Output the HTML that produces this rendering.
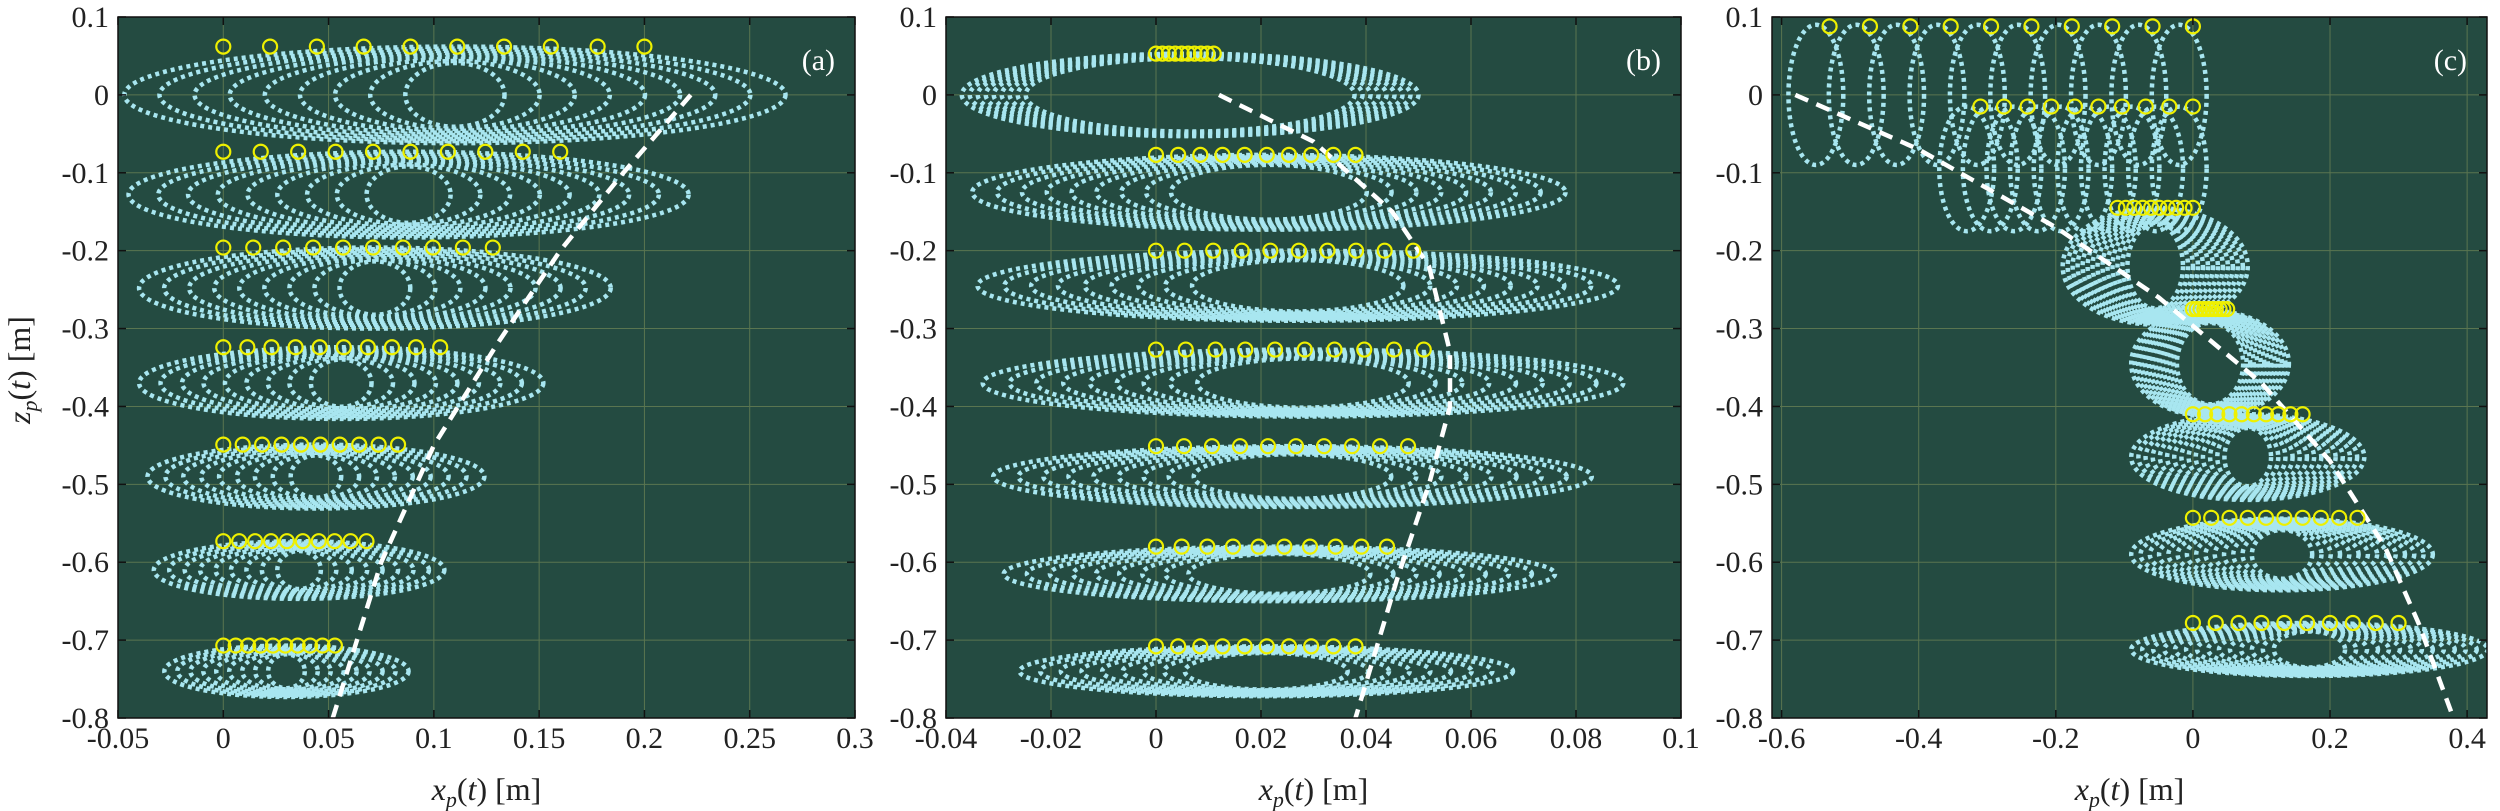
<!DOCTYPE html>
<html><head><meta charset="utf-8"><style>
html,body{margin:0;padding:0;background:#fff;}
svg{display:block;}
text{font-family:"Liberation Serif",serif;fill:#222;}
</style></head><body>
<svg id="s" width="2500" height="811" xmlns="http://www.w3.org/2000/svg">
<g id="g"></g>
<text x="30" y="370" font-size="32" transform="rotate(-90 30 370)" text-anchor="middle"><tspan font-style="italic">z</tspan><tspan font-style="italic" font-size="22" dy="7">p</tspan><tspan dy="-7">(</tspan><tspan font-style="italic">t</tspan>)  [m]</text>
</svg>
<script>
const NS="http://www.w3.org/2000/svg",G=document.getElementById('g');
function el(t,a,p){const e=document.createElementNS(NS,t);for(const k in a)e.setAttribute(k,a[k]);(p||G).appendChild(e);return e;}
const T=17,B=718;
const panels=[
 {L:118,R:855,x0:-0.05,x1:0.3,xt:[-0.05,0,0.05,0.1,0.15,0.2,0.25,0.3],lab:'(a)',
  rows:[[0,.062,.11,.157,.2,0.15],[-.128,.055,.088,.133,.16,0.15],[-.248,.052,.072,.112,.128,0.15],[-.37,.046,.056,.096,.103,0.15],[-.49,.041,.044,.08,.083,0.15],[-.61,.037,.036,.069,.068,0.15],[-.74,.033,.03,.058,.053,0.15]],
  dash:[[.222,0],[.19,-.1],[.16,-.2],[.13,-.32],[.1,-.45],[.075,-.6],[.052,-.8]]},
 {L:946,R:1681,x0:-0.04,x1:0.1,xt:[-0.04,-0.02,0,0.02,0.04,0.06,0.08,0.1],lab:'(b)',
  rows:[[0,.053,.0065,.0435,.011,0.72],[-.125,.048,.0215,.0565,.038,0.33],[-.245,.045,.027,.061,.049,0.33],[-.37,.043,.028,.061,.051,0.33],[-.49,.039,.026,.057,.048,0.33],[-.615,.035,.0235,.0525,.044,0.33],[-.74,.032,.021,.047,.038,0.33]],
  dash:[[.012,0],[.03,-.06],[.045,-.15],[.052,-.22],[.056,-.33],[.056,-.4],[.052,-.5],[.046,-.62],[.038,-.8]]},
 {L:1772,R:2487,x0:-0.614,x1:0.429,xt:[-0.6,-0.4,-0.2,0,0.2,0.4],lab:'(c)',
  rows:[[-.22,.075,-.055,.135,[-.11,0],0.3,-.145],[-.345,.068,.025,.115,[0,.05],0.42,-.275],[-.465,.055,.08,.17,[0,.16],0.2,-.41],[-.59,.046,.13,.22,[0,.24],0.2,-.543],[-.712,.034,.17,.26,[0,.3],0.2,-.678]],
  loops:[[0,.09,.088,-.53,0],[-.095,.08,-.015,-.31,0]],
  dash:[[-.58,0],[-.4,-.07],[-.2,-.17],[-.05,-.26],[.1,-.37],[.2,-.47],[.28,-.58],[.33,-.68],[.38,-.8]]}
];
panels.forEach(P=>{
 const X=x=>P.L+(x-P.x0)/(P.x1-P.x0)*(P.R-P.L),Y=z=>T+(0.1-z)/0.9*(B-T);
 const cp=el('clipPath',{id:'c'+P.lab[1]});el('rect',{x:P.L,y:T,width:P.R-P.L,height:B-T},cp);
 el('rect',{x:P.L,y:T,width:P.R-P.L,height:B-T,fill:'#244b41'});
 const g=el('g',{'clip-path':'url(#c'+P.lab[1]+')'});
 P.xt.forEach(t=>el('line',{x1:X(t),x2:X(t),y1:T,y2:B,stroke:'#5a7550','stroke-width':1},g));
 for(let i=0;i<=9;i++){const z=0.1-i*0.1;el('line',{x1:P.L,x2:P.R,y1:Y(z),y2:Y(z),stroke:'#5a7550','stroke-width':1},g);}
 function ell(cx,cz,a,b){el('ellipse',{cx:X(cx),cy:Y(cz),rx:Math.abs(X(cx+a)-X(cx)),ry:Math.abs(Y(cz+b)-Y(cz)),fill:'none',stroke:'#a8e6f0','stroke-width':4.5,'stroke-dasharray':'4 4'},g);}
 const yel=[];
 P.rows.forEach(r=>{
  const [cz,b,cx,a,ym,inner]=r;const n=r[4] instanceof Array?14:9;
  for(let i=0;i<n;i++){const f=1-(1-inner)*i/(n-1);ell(cx,cz,a*f,b*(0.6+0.4*f));}
  const zy=r[6]!==undefined?r[6]:cz+b;const x0=ym instanceof Array?ym[0]:0,x1=ym instanceof Array?ym[1]:ym;
  for(let i=0;i<10;i++)yel.push([x0+(x1-x0)*i/9,zy]);
 });
 (P.loops||[]).forEach(l=>{const [cz,b,zy,xa,xb]=l;for(let i=0;i<10;i++){const x=xa+(xb-xa)*i/9;ell(x-0.02,cz,0.04,b);yel.push([x,zy]);}});
 el('polyline',{points:P.dash.map(p=>X(p[0])+','+Y(p[1])).join(' '),fill:'none',stroke:'#fff','stroke-width':4.5,'stroke-dasharray':'14 9'},g);
 yel.forEach(p=>el('circle',{cx:X(p[0]),cy:Y(p[1]),r:7,fill:'none',stroke:'#eef000','stroke-width':2.2},g));
 el('rect',{x:P.L,y:T,width:P.R-P.L,height:B-T,fill:'none',stroke:'#111','stroke-width':1.5});
 P.xt.forEach(t=>{el('line',{x1:X(t),x2:X(t),y1:B,y2:B-8,stroke:'#111','stroke-width':1.5});el('line',{x1:X(t),x2:X(t),y1:T,y2:T+8,stroke:'#111','stroke-width':1.5});
  const tx=el('text',{x:X(t),y:748,'font-size':30,'text-anchor':'middle'});tx.textContent=String(t);});
 for(let i=0;i<=9;i++){const z=+(0.1-i*0.1).toFixed(1);el('line',{x1:P.L,x2:P.L+8,y1:Y(z),y2:Y(z),stroke:'#111','stroke-width':1.5});el('line',{x1:P.R,x2:P.R-8,y1:Y(z),y2:Y(z),stroke:'#111','stroke-width':1.5});
  const tx=el('text',{x:P.L-9,y:Y(z)+10,'font-size':30,'text-anchor':'end'});tx.textContent=z===0?'0':String(z);}
 const lb=el('text',{x:P.R-20,y:70,'font-size':30,'text-anchor':'end',style:'fill:#fff'});lb.textContent=P.lab;
 const xl=el('text',{x:(P.L+P.R)/2,y:800,'font-size':32,'text-anchor':'middle'});
 xl.innerHTML='<tspan font-style="italic">x</tspan><tspan font-style="italic" font-size="22" dy="7">p</tspan><tspan dy="-7">(</tspan><tspan font-style="italic">t</tspan>)  [m]';
});
</script>
</body></html>
